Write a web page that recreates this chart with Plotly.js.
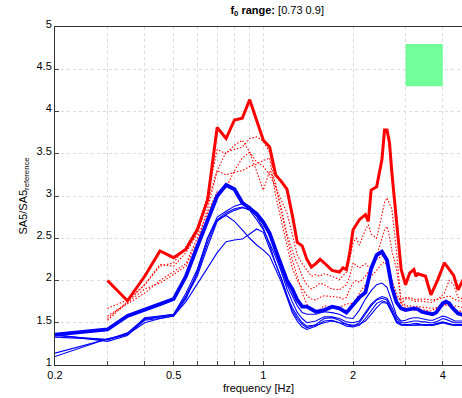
<!DOCTYPE html>
<html>
<head>
<meta charset="utf-8">
<script src="https://cdn.plot.ly/plotly-3.0.1.min.js"></script>
<style>html,body{margin:0;padding:0;background:#fff;}#chart{width:462px;height:398px;}</style>
</head>
<body>
<div id="chart"></div>
<script>
// Frequency grids [Hz]
const freqBlue = [0.2,0.3,0.35,0.4,0.45,0.5,0.55,0.6,0.65,0.7,0.75,0.8,0.85,0.9,0.95,1.0,1.05,1.1,1.15,1.2,1.25,1.3,1.35,1.4,1.5,1.6,1.7,1.8,1.9,2.0,2.1,2.2,2.3,2.4,2.5,2.6,2.7,2.8,2.9,3.0,3.1,3.2,3.3,3.4,3.5,3.6,3.7,3.8,3.9,4.0,4.1,4.2,4.3,4.4,4.5,4.6,4.7];
const freqRed = [0.3,0.35,0.4,0.45,0.5,0.55,0.6,0.65,0.7,0.75,0.8,0.85,0.9,0.95,1.0,1.05,1.1,1.15,1.2,1.25,1.3,1.35,1.4,1.45,1.5,1.55,1.6,1.7,1.8,1.85,1.9,1.95,2.0,2.05,2.1,2.2,2.25,2.3,2.4,2.5,2.55,2.6,2.65,2.7,2.8,2.9,3.0,3.1,3.2,3.25,3.3,3.5,3.65,3.85,4.05,4.2,4.35,4.5,4.7];

// Blue: thick (mean) and thin (individual)
const blueMean = [1.36,1.42,1.58,1.65,1.72,1.78,2.05,2.40,2.71,3.0,3.13,3.08,2.92,2.85,2.79,2.69,2.56,2.36,2.18,2.0,1.9,1.77,1.69,1.69,1.63,1.65,1.69,1.67,1.62,1.72,1.80,1.86,2.14,2.30,2.34,2.24,1.92,1.74,1.67,1.65,1.66,1.67,1.66,1.63,1.62,1.61,1.60,1.62,1.68,1.73,1.75,1.73,1.68,1.65,1.61,1.60,1.59];
const blue1 = [1.33,1.30,1.38,1.55,1.57,1.60,1.85,2.13,2.50,2.75,2.82,2.88,2.91,2.88,2.78,2.70,2.52,2.35,2.20,1.95,1.82,1.70,1.62,1.60,1.60,1.63,1.62,1.60,1.56,1.55,1.65,1.78,1.88,1.95,1.97,1.92,1.75,1.58,1.52,1.53,1.55,1.56,1.56,1.55,1.54,1.53,1.53,1.55,1.57,1.58,1.57,1.55,1.53,1.52,1.52,1.52,1.52];
const blue2 = [1.36,1.28,1.35,1.54,1.57,1.59,1.82,2.08,2.45,2.72,2.80,2.85,2.87,2.83,2.72,2.60,2.44,2.28,2.10,1.90,1.75,1.62,1.55,1.50,1.52,1.57,1.57,1.55,1.51,1.50,1.52,1.62,1.72,1.78,1.81,1.79,1.68,1.55,1.50,1.50,1.51,1.52,1.52,1.51,1.51,1.50,1.50,1.51,1.53,1.55,1.54,1.52,1.51,1.50,1.50,1.50,1.50];
const blue3 = [1.14,1.30,1.37,1.56,1.58,1.60,1.80,2.05,2.40,2.70,2.78,2.83,2.86,2.84,2.76,2.62,2.42,2.20,2.02,1.82,1.65,1.55,1.48,1.44,1.48,1.55,1.56,1.53,1.48,1.46,1.50,1.60,1.70,1.77,1.79,1.77,1.65,1.52,1.48,1.48,1.48,1.49,1.49,1.48,1.48,1.48,1.48,1.49,1.50,1.51,1.50,1.49,1.48,1.48,1.48,1.48,1.48];
const blue4 = [1.10,1.31,1.36,1.53,1.55,1.58,1.78,2.10,2.50,2.72,2.77,2.70,2.60,2.50,2.42,2.36,2.29,2.12,1.98,1.80,1.62,1.52,1.45,1.42,1.46,1.52,1.53,1.50,1.46,1.45,1.47,1.55,1.65,1.73,1.76,1.74,1.62,1.50,1.47,1.47,1.47,1.47,1.47,1.47,1.47,1.47,1.47,1.48,1.49,1.50,1.49,1.48,1.47,1.47,1.47,1.47,1.47];
const blue5 = [1.35,1.30,1.36,1.50,1.55,1.58,1.75,1.95,2.15,2.33,2.46,2.48,2.49,2.55,2.61,2.57,2.38,2.18,2.02,1.82,1.68,1.58,1.50,1.46,1.47,1.50,1.52,1.50,1.48,1.47,1.48,1.52,1.60,1.68,1.74,1.73,1.62,1.52,1.48,1.47,1.47,1.47,1.48,1.48,1.47,1.47,1.47,1.48,1.49,1.50,1.50,1.49,1.48,1.47,1.47,1.47,1.47];

// Red: thick (mean) and dotted (individual)
const redMean = [2.00,1.76,2.05,2.35,2.27,2.37,2.60,2.95,3.81,3.68,3.90,3.92,4.14,3.90,3.66,3.58,3.25,3.17,3.08,2.78,2.45,2.41,2.25,2.16,2.20,2.25,2.21,2.12,2.10,2.15,2.13,2.33,2.60,2.66,2.72,2.78,2.70,3.07,3.11,3.43,3.78,3.78,3.63,3.27,2.68,2.13,1.95,2.09,2.13,2.05,2.08,2.05,1.83,2.01,2.21,2.13,2.06,1.89,2.02];
const red1 = [1.67,1.77,1.95,2.17,2.21,2.40,2.62,3.00,3.55,3.50,3.60,3.66,3.52,3.40,3.35,3.25,3.10,2.95,2.80,2.55,2.30,2.20,2.12,2.05,2.07,2.05,2.08,2.05,2.01,2.05,2.10,2.25,2.45,2.50,2.42,2.60,2.66,2.55,2.50,2.78,2.92,2.98,2.90,2.84,2.33,1.73,1.78,1.80,1.78,1.77,1.78,1.78,1.77,1.78,1.80,1.82,1.78,1.76,1.75];
const red2 = [1.55,1.75,1.95,2.19,2.17,2.33,2.55,2.95,3.30,3.52,3.55,3.58,3.68,3.70,3.65,3.52,3.10,2.85,2.55,2.35,2.20,2.05,1.95,1.90,1.93,1.97,1.95,1.90,1.89,1.92,1.95,2.05,2.21,2.18,2.15,2.20,2.17,2.13,2.29,2.48,2.60,2.64,2.52,2.35,2.13,1.75,1.70,1.70,1.69,1.70,1.69,1.68,1.67,1.68,1.70,1.72,1.70,1.69,1.68];
const red3 = [1.53,1.74,1.90,1.97,2.07,2.17,2.45,2.85,3.30,3.25,3.28,3.30,3.35,3.38,3.42,3.45,3.00,2.70,2.40,2.15,2.00,1.90,1.82,1.78,1.77,1.80,1.82,1.81,1.80,1.78,1.80,1.90,1.97,2.00,1.98,2.05,2.10,2.15,2.25,2.29,2.30,2.27,2.15,2.00,1.85,1.72,1.68,1.66,1.65,1.66,1.66,1.65,1.64,1.68,1.72,1.70,1.66,1.64,1.63];
const red4 = [1.58,1.72,1.85,2.00,2.10,2.20,2.50,2.80,3.05,3.10,3.30,3.45,3.52,3.30,3.07,3.30,3.15,2.80,2.50,2.25,2.05,1.85,1.72,1.65,1.63,1.66,1.70,1.69,1.69,1.70,1.72,1.73,1.73,1.78,1.85,1.95,2.00,2.05,2.12,2.20,2.22,2.18,2.05,1.90,1.80,1.78,1.80,1.78,1.76,1.75,1.76,1.75,1.74,1.78,1.85,2.00,1.95,1.80,1.78];

// f0 marker box
const boxFreq = [3, 4];
const boxAmp = [4.3, 4.8];

// Axis ticks
const xGridVals = [0.2,0.3,0.4,0.5,0.6,0.7,0.8,0.9,1,2,3,4];
const xTickText = ['0.2','','','0.5','','','','','1','2','','4'];
const yTickVals = [1,1.5,2,2.5,3,3.5,4,4.5,5];
const yTickText = ['1','1.5','2','2.5','3','3.5','4','4.5','5'];

const traces = [];
traces.push({x:[boxFreq[0],boxFreq[1],boxFreq[1],boxFreq[0],boxFreq[0]], y:[boxAmp[0],boxAmp[0],boxAmp[1],boxAmp[1],boxAmp[0]],
  mode:'lines', fill:'toself', fillcolor:'#72ff9a', line:{width:0,color:'#72ff9a'}});
[red1,red2,red3,red4].forEach(v=>traces.push({x:freqRed,y:v,mode:'lines',line:{color:'#ff0000',width:1.1,dash:'1.5px,1.8px'}}));
[blue1,blue2,blue3,blue4,blue5].forEach(v=>traces.push({x:freqBlue,y:v,mode:'lines',line:{color:'#0000ff',width:1.1}}));
traces.push({x:freqRed,y:redMean,mode:'lines',line:{color:'#ff0000',width:3}});
traces.push({x:freqBlue,y:blueMean,mode:'lines',line:{color:'#0000ff',width:3.8}});

const font = {family:'"Liberation Sans", Arial, sans-serif', size:11, color:'#000'};
const layout = {
  width:462, height:398,
  margin:{l:55, r:0, t:27, b:33},
  paper_bgcolor:'#fff', plot_bgcolor:'#fff',
  showlegend:false,
  font:font,
  title:{text:'<b>f<sub>0</sub> range:</b> [0.73 0.9]', font:{family:font.family,size:11,color:'#000'}, x:0.6, xanchor:'center', y:0.985, yanchor:'top'},
  xaxis:{type:'log', range:[Math.log10(0.2), Math.log10(4.64)], tickmode:'array', tickvals:xGridVals, ticktext:xTickText,
    ticks:'inside', ticklen:4, tickcolor:'#444', showline:true, linecolor:'#333', linewidth:1, mirror:true,
    showgrid:true, gridcolor:'#dcdcdc', griddash:'3px,3px', gridwidth:1, zeroline:false,
    tickfont:{family:font.family,size:11,color:'#000'},
    title:{text:'frequency [Hz]', font:{family:font.family,size:11,color:'#000'}, standoff:4}},
  yaxis:{range:[1,5], tickmode:'array', tickvals:yTickVals, ticktext:yTickText, ticklabelshift:-3,
    ticks:'inside', ticklen:4, tickcolor:'#444', showline:true, linecolor:'#333', linewidth:1, mirror:false,
    showgrid:true, gridcolor:'#dcdcdc', griddash:'3px,3px', gridwidth:1, zeroline:false,
    tickfont:{family:font.family,size:11,color:'#000'},
    title:{text:'SA5/SA5<sub>reference</sub>', font:{family:font.family,size:11,color:'#000'}, standoff:6}}
};
Plotly.newPlot('chart', traces, layout, {staticPlot:true, displayModeBar:false});
</script>
</body>
</html>
